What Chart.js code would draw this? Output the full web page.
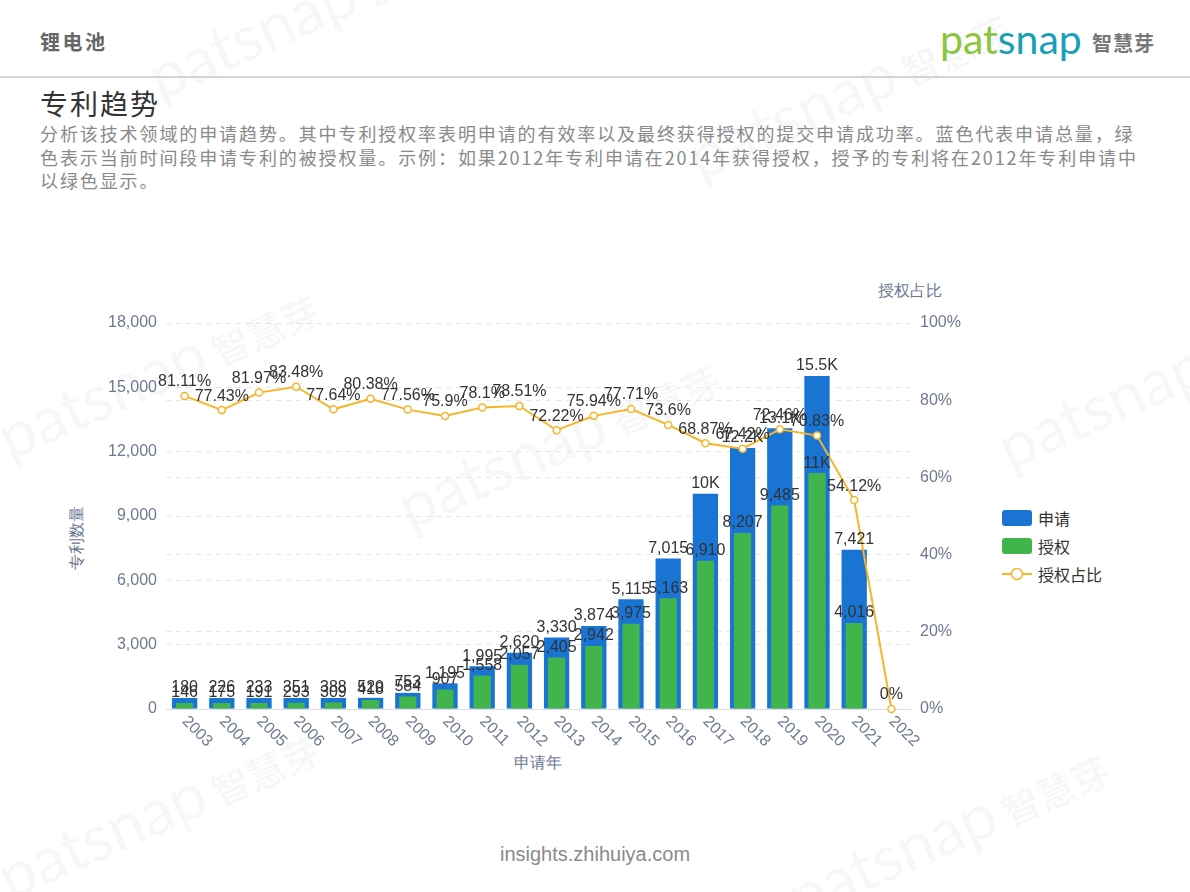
<!DOCTYPE html>
<html lang="zh">
<head>
<meta charset="utf-8">
<title>专利趋势</title>
<script src="https://cdn.jsdelivr.net/npm/chart.js@4.4.1/dist/chart.umd.min.js"></script>
<style>
  html, body {
    margin: 0;
    padding: 0;
    background: #fff;
  }
  body {
    width: 1190px;
    height: 892px;
    position: relative;
    overflow: hidden;
    font-family: "Noto Sans CJK SC", "Noto Sans", sans-serif;
  }
  .abs { position: absolute; white-space: nowrap; }
  .mark {
    position: absolute;
    white-space: nowrap;
    color: rgba(0, 0, 0, 0.03);
    transform: rotate(-24deg);
    transform-origin: left center;
  }
  .mark b { font-family: Lato, sans-serif; font-weight: 400; font-size: 64px; }
  .mark i { font-style: normal; font-weight: 700; font-size: 38px; margin-left: 8px; }
  #topic { left: 40px; top: 27px; font-size: 20px; font-weight: 700; color: #666; letter-spacing: 2.5px; }
  #logo { left: 940px; top: 14px; font-family: Lato, sans-serif; font-size: 41px; }
  #logo .g { color: #8cc63e; }
  #logo .t { color: #1a9fba; }
  #logoCn { left: 1092px; top: 28px; font-size: 20px; font-weight: 700; color: #777; letter-spacing: 1px; }
  #rule { left: 0; top: 76px; width: 1190px; height: 2px; background: #d4d4d4; }
  #title { left: 40px; top: 83px; font-size: 28px; color: #333; letter-spacing: 2px; }
  #desc { left: 40px; top: 122px; font-size: 18px; line-height: 23.5px; color: #8a8a8a; letter-spacing: 1.9px; }
  .axisTitle { font-family: "Liberation Sans", Arial, sans-serif; font-size: 16px; color: #6e7891; }
  #rightTitle { left: 878px; top: 281px; }
  #leftTitle { left: 77px; top: 538px; transform: translate(-50%, -50%) rotate(-90deg); }
  #xTitle { left: 538px; top: 763px; transform: translate(-50%, -50%); }
  #legend { left: 1002px; top: 508px; font-size: 16px; color: #333; }
  .row { height: 28px; display: flex; align-items: center; position: relative; top: -4px; }
  .swatch { width: 30px; height: 16px; border-radius: 3px; margin-right: 6px; }
  #footer { left: 0; width: 1190px; top: 843px; text-align: center; font-family: "Liberation Sans", Arial, sans-serif; font-size: 20px; color: #8a8a8a; }
  #chartBox { position: absolute; left: 0; top: 0; width: 1190px; height: 892px; }
</style>
</head>
<body>
<div class="mark" style="left:150px;top:40px"><b>patsnap</b><i>智慧芽</i></div>
<div class="mark" style="left:690px;top:120px"><b>patsnap</b><i>智慧芽</i></div>
<div class="mark" style="left:0px;top:400px"><b>patsnap</b><i>智慧芽</i></div>
<div class="mark" style="left:400px;top:470px"><b>patsnap</b><i>智慧芽</i></div>
<div class="mark" style="left:1000px;top:410px"><b>patsnap</b><i>智慧芽</i></div>
<div class="mark" style="left:0px;top:840px"><b>patsnap</b><i>智慧芽</i></div>
<div class="mark" style="left:790px;top:860px"><b>patsnap</b><i>智慧芽</i></div>

<div id="topic" class="abs">锂电池</div>
<div id="logo" class="abs"><span class="g">pat</span><span class="t">snap</span></div>
<div id="logoCn" class="abs">智慧芽</div>
<div id="rule" class="abs"></div>
<div id="title" class="abs">专利趋势</div>
<div id="desc" class="abs">分析该技术领域的申请趋势。其中专利授权率表明申请的有效率以及最终获得授权的提交申请成功率。蓝色代表申请总量，绿<br>色表示当前时间段申请专利的被授权量。示例：如果2012年专利申请在2014年获得授权，授予的专利将在2012年专利申请中<br>以绿色显示。</div>

<div id="rightTitle" class="abs axisTitle">授权占比</div>
<div id="leftTitle" class="abs axisTitle">专利数量</div>
<div id="xTitle" class="abs axisTitle">申请年</div>

<div id="legend" class="abs">
  <div class="row"><span class="swatch" style="background:#1a74d4"></span>申请</div>
  <div class="row"><span class="swatch" style="background:#41b54c"></span>授权</div>
  <div class="row">
    <svg width="30" height="16" style="margin-right:6px">
      <line x1="0" y1="8" x2="30" y2="8" stroke="#f6b52b" stroke-width="2"/>
      <circle cx="15" cy="8" r="5.5" fill="#fff" stroke="#f6b52b" stroke-width="1.5"/>
    </svg>授权占比
  </div>
</div>

<div id="footer" class="abs">insights.zhihuiya.com</div>

<div id="chartBox"><canvas id="trendChart"></canvas></div>

<script>
const years = ["2003", "2004", "2005", "2006", "2007", "2008", "2009", "2010", "2011", "2012",
  "2013", "2014", "2015", "2016", "2017", "2018", "2019", "2020", "2021", "2022"];
const applyCounts = [180, 226, 233, 351, 388, 520, 753, 1195, 1995, 2620,
  3330, 3874, 5115, 7015, 10033, 12170, 13090, 15530, 7421, 0];
const grantCounts = [146, 175, 191, 293, 309, 418, 584, 907, 1558, 2057,
  2405, 2942, 3975, 5163, 6910, 8207, 9485, 11000, 4016, 0];
const grantRatios = [81.11, 77.43, 81.97, 83.48, 77.64, 80.38, 77.56, 75.9, 78.1, 78.51,
  72.22, 75.94, 77.71, 73.6, 68.87, 67.42, 72.46, 70.83, 54.12, 0];

const TICK_COLOR = "#6e7891";
const LABEL_FONT = '16px "Liberation Sans", Arial, sans-serif';

function formatCount(value) {
  if (value >= 10000) {
    return `${Number((value / 1000).toFixed(1))}K`;
  }
  return value.toLocaleString("en-US");
}

// zero counts get no bar at all (minBarLength would still draw a stub)
function barValues(values) {
  return values.map(value => value || null);
}

// value labels above bars and points, plus the slanted year labels
const labelPlugin = {
  id: "labelPlugin",
  afterDatasetsDraw(chart) {
    const ctx = chart.ctx;
    ctx.save();
    ctx.font = LABEL_FONT;
    ctx.fillStyle = "#333";
    ctx.textAlign = "center";
    ctx.textBaseline = "bottom";

    [2, 1, 0].forEach(index => {
      const meta = chart.getDatasetMeta(index);
      const values = chart.data.datasets[index].data;

      meta.data.forEach((el, i) => {
        const value = values[i];
        if (index > 0 && !value) return;
        const text = index === 0 ? `${value}%` : formatCount(value);
        ctx.fillText(text, el.x, el.y - (index === 0 ? 6 : 2));
      });
    });

    const xScale = chart.scales.x;
    ctx.fillStyle = TICK_COLOR;
    ctx.textAlign = "left";
    ctx.textBaseline = "middle";
    xScale.ticks.forEach((tick, i) => {
      const x = xScale.getPixelForTick(i);
      ctx.save();
      ctx.translate(x, xScale.top + 10);
      ctx.rotate(Math.PI / 4);
      ctx.fillText(years[i], 0, 0);
      ctx.restore();
    });

    ctx.restore();
  }
};

new Chart(document.querySelector("#trendChart"), {
  type: "bar",
  data: {
    labels: years,
    datasets: [
      {
        type: "line",
        label: "授权占比",
        data: grantRatios,
        yAxisID: "yRight",
        borderColor: "#f6b52b",
        borderWidth: 2,
        pointRadius: 3.5,
        pointBackgroundColor: "#fff",
        pointBorderColor: "#f6b52b",
        pointBorderWidth: 1.5,
        tension: 0,
        clip: false,
        order: 0
      },
      {
        label: "授权",
        data: barValues(grantCounts),
        yAxisID: "y",
        backgroundColor: "#41b54c",
        grouped: false,
        categoryPercentage: 1,
        barPercentage: 0.46,
        minBarLength: 6,
        order: 1
      },
      {
        label: "申请",
        data: barValues(applyCounts),
        yAxisID: "y",
        backgroundColor: "#1a74d4",
        grouped: false,
        categoryPercentage: 1,
        barPercentage: 0.68,
        minBarLength: 11,
        order: 2
      }
    ]
  },
  options: {
    responsive: true,
    maintainAspectRatio: false,
    animation: false,
    layout: {
      padding: { left: 106, right: 220, top: 323, bottom: 123 }
    },
    plugins: {
      legend: { display: false },
      tooltip: { enabled: false }
    },
    scales: {
      x: {
        offset: true,
        grid: { display: false },
        border: { display: true, color: "#dddddd", width: 1 },
        ticks: { display: false },
        afterFit: scale => { scale.height = 60; }
      },
      y: {
        position: "left",
        min: 0,
        max: 18000,
        ticks: {
          stepSize: 3000,
          color: TICK_COLOR,
          padding: 9,
          font: { family: '"Liberation Sans", Arial, sans-serif', size: 16 },
          callback: value => value.toLocaleString("en-US")
        },
        grid: { color: "#e6e6e6", drawTicks: false },
        border: { display: false, dash: [5, 5] },
        afterFit: scale => { scale.width = 60; }
      },
      yRight: {
        position: "right",
        min: 0,
        max: 100,
        ticks: {
          stepSize: 20,
          color: TICK_COLOR,
          padding: 10,
          font: { family: '"Liberation Sans", Arial, sans-serif', size: 16 },
          callback: value => `${value}%`
        },
        grid: { color: "#e6e6e6", drawTicks: false },
        border: { display: false, dash: [5, 5] },
        afterFit: scale => { scale.width = 60; }
      }
    }
  },
  plugins: [labelPlugin]
});
</script>
</body>
</html>
